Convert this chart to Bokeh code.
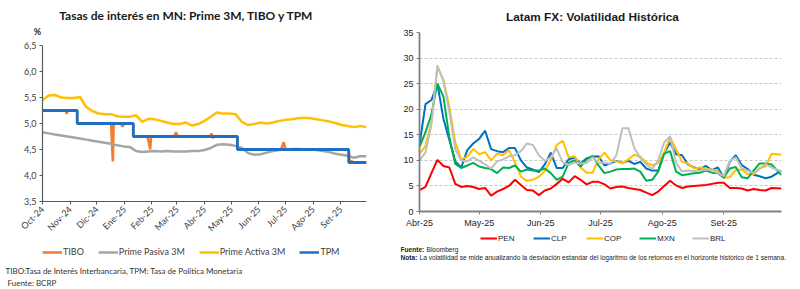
import math
import pandas as pd
from bokeh.plotting import figure
from bokeh.models import (Range1d, FixedTicker, CustomJSTickFormatter,
                          Label, Legend, LegendItem)
from bokeh.layouts import row, column
from bokeh.embed import file_html
from bokeh.resources import INLINE

# ---------------- Left chart data: Tasas de interés en MN ----------------
left_ticks = ["2024-10-01", "2024-11-01", "2024-12-01", "2025-01-01", "2025-02-01", "2025-03-01",
              "2025-04-01", "2025-05-01", "2025-06-01", "2025-07-01", "2025-08-01", "2025-09-01"]
left_labels = ["Oct-24", "Nov-24", "Dic-24", "Ene-25", "Feb-25", "Mar-25",
               "Abr-25", "May-25", "Jun-25", "Jul-25", "Ago-25", "Set-25"]

prime_dates = ["2024-10-01", "2024-10-08", "2024-10-15", "2024-10-22", "2024-10-29", "2024-11-05",
               "2024-11-12", "2024-11-19", "2024-11-26", "2024-12-03", "2024-12-10", "2024-12-17",
               "2024-12-24", "2024-12-31", "2025-01-07", "2025-01-14", "2025-01-21", "2025-01-28",
               "2025-02-04", "2025-02-11", "2025-02-18", "2025-02-25", "2025-03-04", "2025-03-11",
               "2025-03-18", "2025-03-25", "2025-04-01", "2025-04-08", "2025-04-15", "2025-04-22",
               "2025-04-29", "2025-05-06", "2025-05-13", "2025-05-20", "2025-05-27", "2025-06-03",
               "2025-06-10", "2025-06-17", "2025-06-24", "2025-07-01", "2025-07-08", "2025-07-15",
               "2025-07-22", "2025-07-29", "2025-08-05", "2025-08-12", "2025-08-19", "2025-08-26",
               "2025-09-02", "2025-09-09", "2025-09-16", "2025-09-23", "2025-09-30"]
prime_activa = [5.45, 5.54, 5.55, 5.50, 5.49, 5.49, 5.51, 5.32, 5.24, 5.19, 5.18, 5.18, 5.14,
                5.13, 5.13, 5.16, 5.03, 5.09, 5.08, 5.05, 5.02, 4.99, 4.99, 5.02, 4.96, 4.99,
                5.05, 5.13, 5.21, 5.19, 5.19, 5.18, 5.03, 4.97, 4.99, 5.02, 5.00, 5.02, 5.05,
                5.07, 5.08, 5.10, 5.11, 5.10, 5.08, 5.06, 5.04, 5.01, 4.97, 4.95, 4.93, 4.95, 4.93]
prime_pasiva = [4.83, 4.81, 4.79, 4.77, 4.75, 4.73, 4.71, 4.69, 4.67, 4.65, 4.63, 4.61, 4.58,
                4.56, 4.55, 4.47, 4.45, 4.46, 4.47, 4.46, 4.47, 4.46, 4.46, 4.46, 4.47, 4.47,
                4.49, 4.53, 4.59, 4.60, 4.59, 4.57, 4.53, 4.43, 4.40, 4.41, 4.44, 4.47, 4.49,
                4.50, 4.51, 4.51, 4.50, 4.50, 4.49, 4.47, 4.45, 4.42, 4.40, 4.38, 4.34, 4.37, 4.37]

tpm_dates = ["2024-10-01", "2024-11-09", "2025-01-11", "2025-05-08", "2025-09-10", "2025-09-30"]
tpm_values = [5.25, 5.00, 4.75, 4.50, 4.25, 4.25]

tibo_dates = ["2024-10-01", "2024-10-27", "2024-10-28", "2024-10-30", "2024-11-09", "2024-11-09",
              "2024-12-17", "2024-12-19", "2024-12-20", "2024-12-28", "2024-12-30", "2025-01-01",
              "2025-01-11", "2025-01-11", "2025-01-27", "2025-01-30", "2025-01-31", "2025-02-26",
              "2025-02-28", "2025-03-02", "2025-04-07", "2025-04-09", "2025-04-10", "2025-04-12",
              "2025-05-08", "2025-05-08", "2025-06-26", "2025-06-29", "2025-07-01", "2025-09-10",
              "2025-09-11", "2025-09-14", "2025-09-16", "2025-09-30"]
tibo_values = [5.25, 5.25, 5.19, 5.25, 5.25, 5.00,
               5.00, 4.27, 5.00, 5.00, 4.94, 5.00,
               5.00, 4.75, 4.75, 4.50, 4.75, 4.75,
               4.83, 4.75, 4.75, 4.81, 4.72, 4.75,
               4.75, 4.50, 4.50, 4.64, 4.50, 4.50,
               4.28, 4.27, 4.25, 4.25]

left_yticks = [3.5, 4.0, 4.5, 5.0, 5.5, 6.0, 6.5]
left_series = ["TIBO", "Prime Pasiva 3M", "Prime Activa 3M", "TPM"]
left_colors = ["#F47C30", "#A5A5A5", "#FFC000", "#1F6FC5"]

# ---------------- Right chart data: Latam FX volatilidad ----------------
right_ticks = ["2025-04-01", "2025-05-01", "2025-06-01", "2025-07-01", "2025-08-01", "2025-09-01"]
right_labels = ["Abr-25", "May-25", "Jun-25", "Jul-25", "Ago-25", "Set-25"]

fx_dates = ["2025-04-01", "2025-04-04", "2025-04-07", "2025-04-10", "2025-04-13", "2025-04-16",
            "2025-04-19", "2025-04-22", "2025-04-25", "2025-04-28", "2025-05-01", "2025-05-04",
            "2025-05-07", "2025-05-10", "2025-05-13", "2025-05-16", "2025-05-19", "2025-05-22",
            "2025-05-25", "2025-05-28", "2025-05-31", "2025-06-03", "2025-06-06", "2025-06-09",
            "2025-06-12", "2025-06-15", "2025-06-18", "2025-06-21", "2025-06-24", "2025-06-27",
            "2025-06-30", "2025-07-03", "2025-07-06", "2025-07-09", "2025-07-12", "2025-07-15",
            "2025-07-18", "2025-07-21", "2025-07-24", "2025-07-27", "2025-07-30", "2025-08-02",
            "2025-08-05", "2025-08-08", "2025-08-11", "2025-08-14", "2025-08-17", "2025-08-20",
            "2025-08-23", "2025-08-26", "2025-08-29", "2025-09-01", "2025-09-04", "2025-09-07",
            "2025-09-10", "2025-09-13", "2025-09-16", "2025-09-19", "2025-09-22", "2025-09-25",
            "2025-09-30"]
pen = [4.2, 4.8, 7.5, 10.1, 8.9, 8.6, 5.4, 4.8, 5.0, 4.8, 4.4, 4.6, 3.1, 3.9, 4.4, 5.0, 6.2,
       5.2, 4.2, 4.1, 3.2, 4.1, 4.5, 5.4, 6.4, 5.7, 6.9, 6.2, 5.3, 5.8, 5.8, 5.3, 4.5, 4.8,
       4.9, 4.6, 4.4, 4.2, 3.7, 3.2, 3.9, 5.0, 6.0, 5.1, 4.6, 4.9, 5.0, 5.1, 5.2, 5.4, 5.6,
       5.6, 4.6, 4.6, 4.5, 4.1, 4.4, 4.2, 4.1, 4.6, 4.5]
clp = [13.0, 21.0, 21.8, 25.0, 18.2, 14.0, 9.8, 8.6, 12.0, 13.3, 14.2, 15.8, 12.2, 11.8, 11.6,
       12.4, 12.4, 10.0, 8.6, 8.2, 7.7, 9.2, 11.5, 8.5, 8.5, 10.2, 10.5, 9.4, 10.4, 10.7, 10.8,
       9.0, 9.4, 9.9, 9.5, 9.9, 9.3, 9.7, 8.4, 8.0, 8.0, 11.4, 13.5, 11.2, 11.0, 9.2, 8.6, 8.3,
       8.9, 8.1, 8.6, 6.6, 9.7, 11.0, 9.1, 8.3, 7.2, 6.9, 6.5, 6.8, 8.0]
cop = [11.3, 12.8, 17.5, 28.2, 25.8, 20.5, 13.5, 10.2, 10.7, 12.2, 11.2, 11.6, 10.0, 11.3, 11.0,
       12.0, 9.6, 6.8, 6.0, 6.2, 6.8, 7.9, 10.1, 13.0, 13.8, 10.6, 10.8, 8.6, 7.6, 7.6, 10.2,
       11.5, 10.0, 9.8, 9.4, 10.2, 11.1, 10.7, 9.6, 9.0, 9.5, 11.5, 14.5, 12.2, 9.7, 9.4, 8.4,
       8.6, 8.3, 8.2, 7.9, 6.6, 6.7, 8.1, 8.2, 7.3, 7.3, 8.5, 8.8, 11.3, 11.1]
mxn = [12.6, 15.5, 19.0, 25.0, 22.5, 14.5, 9.3, 8.5, 9.0, 9.5, 8.8, 8.5, 8.3, 7.5, 8.6, 8.5,
       9.0, 7.8, 8.2, 8.0, 8.0, 8.4, 7.5, 6.2, 6.8, 9.5, 10.0, 8.8, 10.2, 10.9, 9.0, 7.5, 7.8,
       8.2, 8.3, 8.3, 8.4, 7.8, 6.0, 6.2, 7.8, 11.3, 11.8, 7.8, 7.1, 7.3, 7.5, 7.6, 8.0, 7.6,
       7.5, 6.6, 8.4, 8.7, 6.7, 6.5, 8.0, 9.4, 9.4, 9.2, 7.1]
brl = [10.0, 11.5, 17.0, 28.6, 25.5, 19.5, 12.2, 9.9, 9.8, 10.6, 9.9, 9.2, 8.4, 9.8, 10.2,
       10.8, 11.0, 11.8, 13.3, 13.0, 11.0, 9.9, 10.6, 12.3, 9.6, 9.1, 9.6, 9.4, 9.5, 10.6, 9.5,
       9.6, 9.3, 11.0, 16.3, 16.3, 12.4, 10.5, 9.2, 8.3, 10.0, 13.5, 14.7, 9.5, 7.8, 8.0, 7.9,
       8.0, 8.2, 8.1, 7.5, 6.9, 9.9, 10.6, 8.5, 8.0, 7.5, 8.3, 9.3, 8.6, 7.8]

right_yticks = [0, 5, 10, 15, 20, 25, 30, 35]
right_series = ["PEN", "CLP", "COP", "MXN", "BRL"]
right_colors = ["#FF0000", "#0070C0", "#FFC000", "#00B050", "#BFBFBF"]

# ---------------- helpers ----------------
def ms(d):
    return int(pd.Timestamp(d).value // 10**6)

def dt(lst):
    return pd.to_datetime(lst)

def tick_formatter(tick_list, label_list):
    return CustomJSTickFormatter(args=dict(tvals=[ms(t) for t in tick_list], tlabels=label_list),
                                 code="const i = tvals.indexOf(tick); return i >= 0 ? tlabels[i] : '';")

def text_fig(w, h):
    f = figure(width=w, height=h, x_range=Range1d(0, w), y_range=Range1d(h, 0),
               output_backend="svg", toolbar_location=None, min_border=0,
               x_axis_location=None, y_axis_location=None)
    f.title.visible = False
    f.outline_line_color = None
    f.grid.visible = False
    return f

def add_text(f, x, y, text, font, size, bold=False, align="left", color="#1a1a1a"):
    f.add_layout(Label(x=x, y=y, text=text, text_font=font, text_font_size=size,
                       text_font_style="bold" if bold else "normal", text_align=align,
                       text_baseline="middle", text_color=color))

def legend_keys(f, names, colors, width):
    # invisible key renderers (kept outside the visible range) that only feed the legend
    items = []
    for name, col in zip(names, colors):
        r = f.line(x=[-1000, -990], y=[-1000, -1000], line_color=col, line_width=width)
        items.append(LegendItem(label=name, renderers=[r]))
    return items

LFONT = "Lato"
RFONT = "Liberation Sans"
W = 400

# ================= LEFT COLUMN =================
L_top = text_fig(W, 37)
add_text(L_top, 186, 15, "Tasas de interés en MN: Prime 3M, TIBO y TPM", LFONT, "12px", True, "center")
add_text(L_top, 37, 31, "%", LFONT, "9px", True, "center", "#262626")

p1 = figure(width=W, height=203, x_axis_type="datetime", output_backend="svg",
            toolbar_location=None, min_border_left=42, min_border_right=34,
            min_border_top=8, min_border_bottom=38,
            x_range=Range1d(dt(["2024-10-01"])[0], dt(["2025-09-30"])[0]),
            y_range=Range1d(3.5, 6.5))
p1.title.visible = False
p1.outline_line_color = None
p1.grid.visible = False

p1.line(dt(tibo_dates), tibo_values, line_color=left_colors[0], line_width=2.5)
p1.line(dt(prime_dates), prime_pasiva, line_color=left_colors[1], line_width=2.5)
p1.line(dt(prime_dates), prime_activa, line_color=left_colors[2], line_width=2.5)
p1.step(dt(tpm_dates), tpm_values, mode="after", line_color=left_colors[3], line_width=2.8)

p1.xaxis.ticker = FixedTicker(ticks=[ms(t) for t in left_ticks])
p1.xaxis.formatter = tick_formatter(left_ticks, left_labels)
p1.xaxis.major_label_orientation = math.pi / 4
p1.yaxis.ticker = FixedTicker(ticks=left_yticks)
p1.yaxis.formatter = CustomJSTickFormatter(code="return tick.toFixed(1).replace('.', ',');")
for ax in (p1.xaxis[0], p1.yaxis[0]):
    ax.axis_line_color = "#595959"
    ax.axis_line_width = 1.2
    ax.major_tick_line_color = "#595959"
    ax.major_tick_out = 3
    ax.major_tick_in = 0
    ax.minor_tick_line_color = None
    ax.major_label_text_font = LFONT
    ax.major_label_text_font_size = "9px"
    ax.major_label_text_color = "#404040"
    ax.major_label_standoff = 3

L_bot = text_fig(W, 49)
leg1 = Legend(items=legend_keys(L_bot, left_series, left_colors, 2.5),
              orientation="horizontal", location=(42, 32), padding=0, margin=0,
              spacing=14, glyph_width=20, glyph_height=10, label_standoff=1,
              label_text_font=LFONT, label_text_font_size="9px", label_text_color="#404040",
              label_height=10, border_line_color=None, background_fill_alpha=0)
L_bot.add_layout(leg1, "center")
add_text(L_bot, 5, 30, "TIBO:Tasa de Interés Interbancaria, TPM: Tasa de Política Monetaria",
         LFONT, "8px", color="#333333")
add_text(L_bot, 7, 42, "Fuente: BCRP", LFONT, "8px", color="#333333")

# ================= RIGHT COLUMN =================
R_top = text_fig(W, 24)
add_text(R_top, 192, 16, "Latam FX: Volatilidad Histórica", RFONT, "11.8px", True, "center")

p2 = figure(width=W, height=206, x_axis_type="datetime", output_backend="svg",
            toolbar_location=None, min_border_left=19, min_border_right=19,
            min_border_top=8, min_border_bottom=17,
            x_range=Range1d(dt(["2025-04-01"])[0], dt(["2025-09-30"])[0]),
            y_range=Range1d(0, 35))
p2.title.visible = False
p2.outline_line_color = None
p2.xgrid.visible = False
p2.ygrid.grid_line_color = "#C8C8C8"
p2.ygrid.grid_line_dash = "3 2"
p2.ygrid.grid_line_width = 1

fx_x = dt(fx_dates)
for vals, col in zip([pen, clp, cop, mxn, brl], right_colors):
    p2.line(fx_x, vals, line_color=col, line_width=2)

p2.xaxis.ticker = FixedTicker(ticks=[ms(t) for t in right_ticks])
p2.xaxis.formatter = tick_formatter(right_ticks, right_labels)
p2.yaxis.ticker = FixedTicker(ticks=right_yticks)
for ax in (p2.xaxis[0], p2.yaxis[0]):
    ax.axis_line_color = "#808080"
    ax.axis_line_width = 1.8
    ax.major_tick_line_color = "#808080"
    ax.major_tick_out = 3
    ax.major_tick_in = 0
    ax.minor_tick_line_color = None
    ax.major_label_text_font = RFONT
    ax.major_label_text_font_size = "9px"
    ax.major_label_text_color = "#262626"
    ax.major_label_standoff = 3

R_bot = text_fig(W, 59)
leg2 = Legend(items=legend_keys(R_bot, right_series, right_colors, 2),
              orientation="horizontal", location=(80, 46), padding=0, margin=0,
              spacing=15, glyph_width=17, glyph_height=10, label_standoff=1,
              label_text_font=RFONT, label_text_font_size="8px", label_text_color="#262626",
              label_height=10, border_line_color=None, background_fill_alpha=0)
R_bot.add_layout(leg2, "center")
add_text(R_bot, 0, 19, "Fuente:", RFONT, "6.6px", True)
add_text(R_bot, 26, 19, "Bloomberg", RFONT, "6.6px")
add_text(R_bot, 0, 27, "Nota:", RFONT, "6.6px", True)
add_text(R_bot, 19, 27, "La volatilidad se mide anualizando la desviación estandar del logaritmo de los retornos en el horizonte histórico de 1 semana.",
         RFONT, "6.6px")

# each text band is wrapped in its own row so that it does not share the plot frame alignment
layout = row(column(row(L_top), p1, row(L_bot), spacing=0),
             column(row(R_top), p2, row(R_bot), spacing=0), spacing=0)
open("out.html", "w").write(file_html(layout, INLINE))
